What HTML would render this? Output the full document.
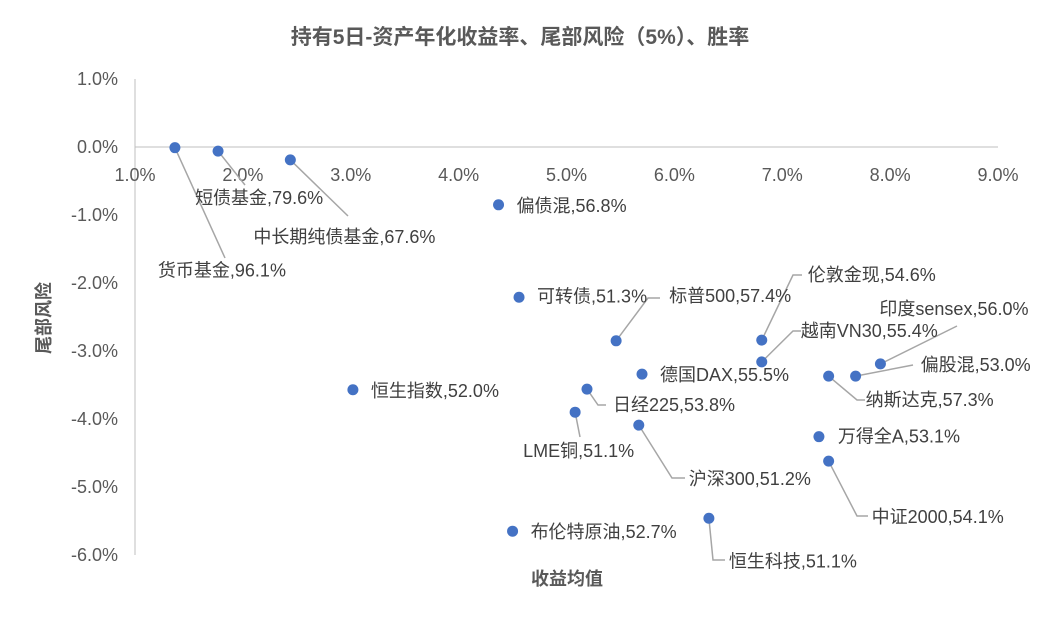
<!DOCTYPE html>
<html><head><meta charset="utf-8"><style>
body{margin:0;background:#fff;}
svg{display:block;font-family:"Liberation Sans","Noto Sans CJK SC",sans-serif;}
</style></head><body>
<svg id="chart" width="1041" height="618" viewBox="0 0 1041 618"></svg>
<script>
const names=["货币基金,96.1%","短债基金,79.6%","中长期纯债基金,67.6%","偏债混,56.8%","可转债,51.3%","标普500,57.4%","伦敦金现,54.6%","越南VN30,55.4%","印度sensex,56.0%","偏股混,53.0%","纳斯达克,57.3%","德国DAX,55.5%","恒生指数,52.0%","日经225,53.8%","LME铜,51.1%","沪深300,51.2%","万得全A,53.1%","中证2000,54.1%","布伦特原油,52.7%","恒生科技,51.1%"];
const xVals=[1.37,1.77,2.44,4.37,4.56,5.46,6.81,6.81,7.91,7.68,7.43,5.70,3.02,5.19,5.08,5.67,7.34,7.43,4.50,6.32];
const yVals=[-0.01,-0.06,-0.19,-0.85,-2.21,-2.85,-2.84,-3.16,-3.19,-3.37,-3.37,-3.34,-3.57,-3.56,-3.90,-4.09,-4.26,-4.62,-5.65,-5.46];
const xTicks=[1,2,3,4,5,6,7,8,9];
const yTicks=[1,0,-1,-2,-3,-4,-5,-6];
const lab=[[-17,124,1],[-23,48,1],[-37,78,1],[18,2,0],[18,0,0],[53,-44,1],[46,-64,1],[39,-30,1],[-1,-54,1],[65,-10,1],[37,25,1],[18,2,0],[18,2,0],[26,17,1],[-52,40,1],[50,55,1],[19,1,0],[43,57,1],[18,2,0],[20,44,1]];
const lead=[[[225,258]],[[245,185]],[[348,216]],null,null,[[648,298],[660,298]],[[793,275],[802,275]],[[793,331],[801,331]],[[957,326]],[[913,365]],[[857,400],[865,400]],null,null,[[598,405],[606,405]],[[580,437]],[[672,478],[685,478]],null,[[857,516],[868,516]],null,[[713,560],[725,560]]];
const svg=document.getElementById('chart');
const NS='http://www.w3.org/2000/svg';
const X=v=>135+(v-1)*107.875;
const Y=v=>147-v*68;
function mk(t,a,txt){const e=document.createElementNS(NS,t);for(const k in a)e.setAttribute(k,a[k]);if(txt!=null)e.textContent=txt;svg.appendChild(e);return e;}
let e;
e=mk('text',{x:520,y:44,'text-anchor':'middle','font-size':21,'font-weight':'bold',fill:'#595959'},'持有5日-资产年化收益率、尾部风险（5%）、胜率');


e=mk('line',{x1:135,y1:79,x2:135,y2:555,stroke:'#bfbfbf'});


e=mk('line',{x1:135,y1:147,x2:998,y2:147,stroke:'#bfbfbf'});


xTicks.forEach(t=>{e=mk('text',{x:X(t),y:181,'text-anchor':'middle','font-size':18,fill:'#595959'},t.toFixed(1)+'%');

});
yTicks.forEach(t=>{e=mk('text',{x:118,y:Y(t)+6,'text-anchor':'end','font-size':18,fill:'#595959'},t.toFixed(1)+'%');

});
e=mk('text',{x:567,y:585,'text-anchor':'middle','font-size':18,'font-weight':'bold',fill:'#595959'},'收益均值');


e=mk('text',{x:50,y:318,'text-anchor':'middle','font-size':18,'font-weight':'bold',fill:'#595959',transform:'rotate(-90 50 318)'},'尾部风险');


names.forEach((n,i)=>{
 const px=X(xVals[i]),py=Y(yVals[i]);
 if(lead[i]){const pts=[[px,py]].concat(lead[i]).map(p=>p.join(',')).join(' ');
  e=mk('polyline',{points:pts,fill:'none',stroke:'#a6a6a6','stroke-width':1.5});
  
  }
});
names.forEach((n,i)=>{
 const px=X(xVals[i]),py=Y(yVals[i]);
 e=mk('circle',{cx:px,cy:py,r:5.5,fill:'#4472c4'});
 
 
 e=mk('text',{x:px+lab[i][0],y:py+lab[i][1]+5,'font-size':18,fill:'#404040'},n);
 
 
});
</script>
</body></html>
